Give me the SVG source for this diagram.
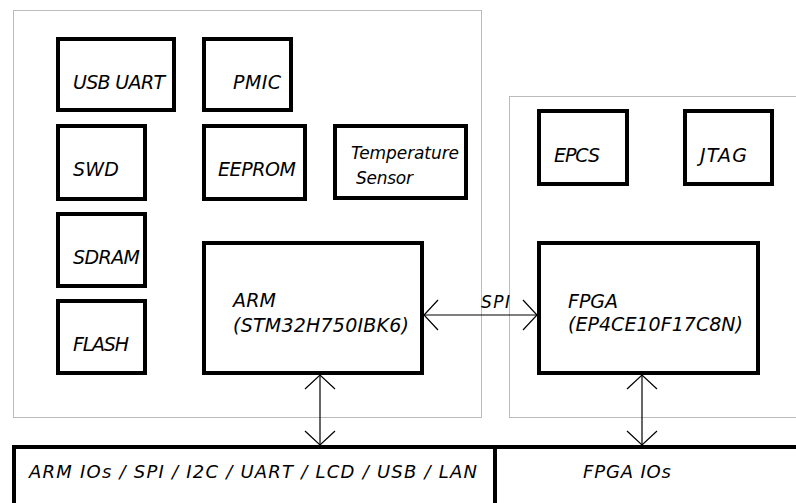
<svg xmlns="http://www.w3.org/2000/svg" width="796" height="503" viewBox="0 0 796 503">
<defs>
<style>
.region{fill:none;stroke:#777;stroke-width:1;stroke-dasharray:1,1}
.box{fill:#fff;stroke:#000;stroke-width:4}
.lbl{font-family:"DejaVu Sans",sans-serif;font-style:italic;font-size:19px;fill:#000}
.sm{font-size:17px}
.bot{font-size:18px}
.conn{stroke:#000;stroke-width:1.2;fill:none;marker-start:url(#arr);marker-end:url(#arr)}
</style>
<marker id="arr" markerUnits="userSpaceOnUse" viewBox="-16 -17 18 34" refX="0" refY="0" markerWidth="18" markerHeight="34" orient="auto-start-reverse">
<path d="M-14,-15 L0,0 L-14,15" fill="none" stroke="#000" stroke-width="1.2"/>
</marker>
</defs>
<rect width="796" height="503" fill="#fff"/>
<g id="regions">
<rect class="region" x="13.5" y="10.5" width="468" height="407"/>
<rect class="region" x="509.5" y="96.5" width="300" height="321"/>
</g>
<g id="usb-uart"><rect class="box" x="58" y="39" width="116" height="71"/><text class="lbl" x="73" y="89" textLength="92">USB UART</text></g>
<g id="pmic"><rect class="box" x="204" y="39" width="87" height="71"/><text class="lbl" x="233" y="89" textLength="48">PMIC</text></g>
<g id="swd"><rect class="box" x="58" y="126" width="87" height="73"/><text class="lbl" x="73" y="176" textLength="46">SWD</text></g>
<g id="eeprom"><rect class="box" x="204" y="126" width="101" height="73"/><text class="lbl" x="218" y="176" textLength="78">EEPROM</text></g>
<g id="temp-sensor"><rect class="box" x="335" y="126" width="131" height="72"/><text class="lbl sm" x="351" y="159" textLength="108">Temperature</text><text class="lbl sm" x="356" y="184" textLength="57">Sensor</text></g>
<g id="sdram"><rect class="box" x="58" y="214" width="87" height="72"/><text class="lbl" x="73" y="264" textLength="67">SDRAM</text></g>
<g id="flash"><rect class="box" x="58" y="301" width="87" height="72"/><text class="lbl" x="73" y="351" textLength="56">FLASH</text></g>
<g id="arm"><rect class="box" x="204" y="243" width="218" height="130"/><text class="lbl" x="233" y="307" textLength="43">ARM</text><text class="lbl" x="233" y="332" textLength="176">(STM32H750IBK6)</text></g>
<g id="epcs"><rect class="box" x="539" y="111" width="88" height="73"/><text class="lbl" x="554" y="162" textLength="46">EPCS</text></g>
<g id="jtag"><rect class="box" x="685" y="111" width="87" height="73"/><text class="lbl" x="700" y="162" textLength="47">JTAG</text></g>
<g id="fpga"><rect class="box" x="539" y="243" width="219" height="130"/><text class="lbl" x="568" y="308" textLength="50">FPGA</text><text class="lbl" x="568" y="331" textLength="175">(EP4CE10F17C8N)</text></g>
<g id="io-bar">
<rect class="box" x="14" y="447" width="800" height="80"/>
<line x1="495" y1="447" x2="495" y2="510" stroke="#000" stroke-width="4"/>
<text class="lbl bot" x="29" y="478" textLength="448">ARM IOs / SPI / I2C / UART / LCD / USB / LAN</text>
<text class="lbl bot" x="583" y="478" textLength="88">FPGA IOs</text>
</g>
<g id="connectors">
<line class="conn" x1="320" y1="375" x2="320" y2="445"/>
<line class="conn" x1="642" y1="375" x2="642" y2="445"/>
<line class="conn" x1="424" y1="315" x2="537" y2="315"/>
<text class="lbl sm" x="481" y="308" textLength="29">SPI</text>
</g>
</svg>
